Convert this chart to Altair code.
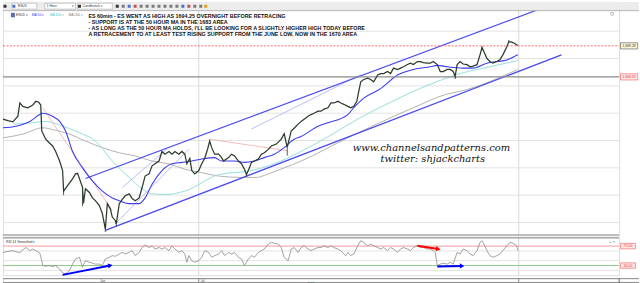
import altair as alt
import pandas as pd
import math

# ---------------- data ----------------
bar_x = [0, 5, 10, 15, 17, 20, 25, 30, 33, 36, 38, 39, 41, 43, 47, 50, 53, 57, 60, 61,
         63, 67, 70, 73, 75, 77, 80, 81, 83, 87, 90, 93, 97, 100, 102, 103, 105, 108, 110, 113,
         114, 117, 120, 123, 127, 130, 133, 137, 140, 143, 147, 150, 153, 157, 160, 163, 167, 170, 173, 177,
         180, 183, 185, 188, 190, 193, 197, 200, 203, 206, 208, 210, 213, 217, 220, 222, 227, 230, 233, 237,
         240, 243, 245, 248, 250, 253, 257, 260, 263, 267, 270, 275, 280, 283, 286, 290, 293, 297, 300, 303,
         307, 310, 313, 317, 320, 323, 327, 330, 333, 337, 340, 343, 347, 350, 353, 356, 358, 360, 363, 367,
         370, 373, 377, 380, 383, 387, 390, 393, 397, 400, 403, 407, 410, 413, 417, 420, 423, 427, 430, 433,
         437, 440, 443, 447, 450, 453, 455, 457, 460, 463, 467, 470, 473, 477, 480, 482, 484, 487, 490, 493,
         497, 500, 503, 507, 509, 512, 515, 518]
close = [1635.6, 1634.5, 1633.7, 1637.8, 1647.5, 1645, 1644, 1646, 1648.7, 1648, 1646, 1627, 1624, 1621, 1618, 1616, 1612, 1605, 1598, 1583,
         1585, 1589, 1592, 1595.6, 1596, 1592, 1585.7, 1574, 1584.7, 1582, 1578, 1576, 1572.4, 1566.5, 1559, 1555, 1573.8, 1570, 1564, 1561.5,
         1559, 1573.8, 1577, 1579.6, 1581, 1577.5, 1576, 1578, 1585.6, 1594, 1595.6, 1601.5, 1603, 1605, 1612, 1610, 1612, 1610, 1612, 1610,
         1612, 1610, 1603, 1607, 1598, 1595.6, 1598, 1603, 1607, 1614, 1619.6, 1614.8, 1610, 1610, 1607.5, 1605, 1607.5, 1610, 1608.7, 1605,
         1603, 1599, 1595, 1600, 1604, 1605, 1606.5, 1610, 1611, 1613.5, 1616, 1617.4, 1621, 1625, 1615, 1627, 1629, 1632, 1634, 1635.6,
         1637.8, 1639, 1640, 1641.5, 1641.5, 1643, 1644, 1647.5, 1647.5, 1648.7, 1647.5, 1646.5, 1645, 1644, 1645, 1648.7, 1656, 1663, 1664.7, 1665.7,
         1664.7, 1663, 1668, 1669, 1669, 1670.5, 1669, 1673, 1672, 1673, 1674, 1675.6, 1676.6, 1675.6, 1677.8, 1677.8, 1677, 1676.6, 1676.6, 1677.8,
         1675.6, 1670.5, 1670.5, 1672, 1672, 1670.5, 1667, 1675.6, 1677.8, 1676, 1675.5, 1674, 1674.5, 1675.5, 1682.7, 1688, 1685, 1680, 1677.8, 1676.6,
         1677.8, 1679, 1682.7, 1688.7, 1692.4, 1692, 1691, 1689.5]

wick_x = [61, 80, 103, 114, 245, 286, 455, 482, 509]
wick_end = [1580, 1572, 1553, 1557, 1593.5, 1609, 1665, 1689, 1693.6]

ma50_x = [0, 13, 27, 37, 40, 50, 57, 63, 70, 80, 90, 100, 110, 117, 127, 137, 143, 150, 160, 170,
          180, 190, 200, 213, 220, 233, 243, 253, 263, 273, 283, 293, 300, 317, 327, 347, 353, 363, 380, 397,
          413, 430, 437, 447, 463, 473, 487, 497, 507, 518]
ma50 = [1629.3, 1630.5, 1634, 1639, 1640, 1637.8, 1634, 1627, 1612, 1600, 1590.5, 1583, 1578, 1576, 1573.8, 1573.8, 1578, 1588, 1598, 1603,
        1604, 1605, 1606.5, 1607.5, 1605, 1605, 1604, 1605, 1607.5, 1610, 1614.8, 1621, 1623, 1630.5, 1633, 1639, 1644, 1651, 1658, 1668,
        1672, 1674, 1675, 1674, 1673, 1673, 1676.6, 1677.8, 1679, 1682.7]

ma100_x = [10, 30, 43, 60, 77, 93, 110, 127, 140, 150, 163, 183, 217, 250, 273, 300, 330, 360, 390, 413, 440, 460, 490, 518]
ma100 = [1632, 1633, 1634, 1630.5, 1625.7, 1619.6, 1605, 1593, 1584.7, 1581, 1580.5, 1583, 1595, 1598, 1603, 1612, 1624, 1637, 1648, 1656, 1664, 1669, 1674, 1678.5]

ma200_x = [0, 20, 40, 50, 67, 83, 100, 117, 133, 150, 167, 183, 200, 217, 240, 255, 267, 283, 300, 347, 413, 447, 460, 518]
ma200 = [1622, 1624.7, 1629.3, 1628, 1624.7, 1619.6, 1614.8, 1611, 1608.7, 1605, 1602.9, 1599, 1596.5, 1594, 1593, 1593, 1595.6, 1600, 1605, 1622, 1644, 1654, 1656, 1672]

# trend lines: start bar, start price, end bar, end price, kind
tl_x1 = [83, 103, 113, 120, 250, 40, 207]
tl_p1 = [1592.2, 1554.2, 1559.1, 1585.6, 1628.4, 1643.9, 1621.1]
tl_x2 = [560, 562, 187, 165, 360, 110, 287]
tl_p2 = [1721.6, 1682.7, 1613.6, 1613.8, 1668.2, 1568.7, 1612.4]
tl_kind = ["channel", "channel", "thin", "thin", "thin", "red", "red"]

level_red = 1689.28
level_grey = 1666.59
price_ticks = [1560, 1580, 1600, 1620, 1640, 1660, 1680, 1700]
day_lines = [197, 519]

rsi_x = [0, 5, 10, 13, 17, 20, 23, 27, 30, 33, 37, 39, 40, 43, 47, 50, 53, 57, 60, 63,
         67, 70, 73, 77, 80, 83, 87, 90, 93, 97, 100, 103, 107, 110, 113, 117, 120, 123, 127, 130,
         133, 137, 140, 143, 147, 150, 153, 157, 160, 163, 167, 170, 173, 177, 180, 183, 185, 187, 190, 193,
         197, 200, 203, 207, 210, 213, 217, 220, 223, 227, 230, 233, 237, 240, 243, 247, 250, 253, 257, 260,
         263, 267, 270, 273, 277, 280, 283, 287, 290, 293, 297, 300, 303, 307, 310, 313, 317, 320, 323, 327,
         330, 333, 337, 340, 343, 345, 347, 350, 353, 357, 360, 363, 367, 370, 373, 377, 380, 383, 387, 390,
         393, 397, 400, 403, 407, 410, 413, 417, 420, 423, 427, 430, 433, 435, 437, 440, 443, 447, 450, 453,
         457, 460, 463, 467, 470, 473, 477, 480, 482, 484, 487, 490, 493, 497, 500, 503, 507, 510, 513, 517, 518]
rsi = [57, 59, 60.6, 58, 57, 62, 67.3, 60.6, 64, 60.6, 55.7, 40, 30, 28.6, 30, 28, 30, 23, 15, 13,
       20, 33, 43.5, 47, 26.5, 40, 36.7, 35, 33, 33, 30, 43.5, 47, 50.4, 49, 53.7, 57, 53.7, 57, 60.6,
       50.4, 57, 67, 72, 67, 70.6, 64, 67, 64, 67, 60.6, 70.6, 64, 57, 60.6, 53.7, 36.7, 50.4, 40, 36.7,
       40, 47, 60.6, 57, 47, 50.4, 53.7, 60.6, 50.4, 57, 53.7, 57, 47, 43.5, 30, 43.5, 50.4, 47, 57, 60.6,
       64, 74, 77.5, 76, 74, 67, 47, 40, 64, 67, 57, 67, 70.6, 64, 60.6, 64, 67, 67, 70.6, 67,
       70.6, 67, 64, 60.6, 53.7, 50.4, 57, 50.4, 53.7, 70.6, 81, 77.5, 70.6, 74, 70.6, 67, 64, 67, 60.6, 67,
       64, 57, 64, 67, 64, 60.6, 67, 70.6, 67, 67, 64, 64, 60.6, 57, 30, 33, 34.7, 33, 36.7, 33,
       57, 53.7, 64, 60.6, 53.7, 50.4, 60.6, 77.5, 81, 74, 60.6, 50.4, 47, 50.4, 53.7, 60.6, 70.6, 77.5, 76, 70.6, 60.6]

rsi_ticks = [20, 40, 60]
rsi_overbought = 70
rsi_oversold = 30

arrow_x1 = [60, 417, 437]
arrow_r1 = [10.8, 70.8, 28.0]
arrow_x2 = [108, 438, 462]
arrow_r2 = [30.0, 63.9, 29.2]
arrow_col = ["blue", "red", "blue"]

notes = ["ES 60min - ES WENT AS HIGH AS 1694.25 OVERNIGHT BEFORE RETRACING",
         "- SUPPORT IS AT THE 50 HOUR MA IN THE 1683 AREA",
         "- AS LONG AS THE 50 HOUR MA HOLDS, I'LL BE LOOKING FOR A SLIGHTLY HIGHER HIGH TODAY BEFORE",
         "A RETRACEMENT TO AT LEAST TEST RISING SUPPORT FROM THE JUNE LOW, NOW IN THE 1670 AREA"]
month_labels = ["Jun", "Jul"]
month_x = [98, 199]
year_label = "2013"
year_x = 310

# ---------------- scales ----------------
W = 620
H_P, H_R, H_A = 235, 38, 10
PX_PER_PT = 1.375
P_DOM = [1700 - (H_P - 29.5) / PX_PER_PT, 1700 + 29.5 / PX_PER_PT]
R_DOM = [10.2, 87.8]
xs = alt.Scale(domain=[0, W], nice=False, zero=False)
ps = alt.Scale(domain=P_DOM, nice=False, zero=False)
rs = alt.Scale(domain=R_DOM, nice=False, zero=False)

GRID = "#e3e3e3"
FONT = "Liberation Sans"
IND = dict(color="independent", fill="independent", stroke="independent", strokeWidth="independent")


def X(f):
    return alt.X(f, type="quantitative", scale=xs, axis=None)


def PY(f, axis=None):
    return alt.Y(f, type="quantitative", scale=ps, axis=axis)


def RY(f, axis=None):
    return alt.Y(f, type="quantitative", scale=rs, axis=axis)


one = pd.DataFrame({"k": [0]})

# ---------------- price panel ----------------
pdf = pd.DataFrame({"x": bar_x, "c": close})
close_at = dict(zip(bar_x, close))
wdf = pd.DataFrame({"x": wick_x, "a": [close_at[v] for v in wick_x], "b": wick_end})

grid_layer = alt.Chart(pd.DataFrame({"p": price_ticks})).mark_rule(color=GRID, strokeWidth=1).encode(
    y=PY("p", alt.Axis(orient="right", values=price_ticks, format=",.2f", labelFontSize=3.4,
                       labelColor="#555", labelFont=FONT, tickSize=2, tickColor="#999", domain=True,
                       domainColor="#707070", labelPadding=1, grid=False, title=None)),
    x=alt.value(0), x2=alt.value(W))
vgrid = alt.Chart(pd.DataFrame({"x": day_lines})).mark_rule(color="#d8d8d8", strokeWidth=1).encode(
    x=X("x"), y=alt.value(9), y2=alt.value(H_P))


def ma_layer(xv, yv, color, width):
    return alt.Chart(pd.DataFrame({"x": xv, "p": yv})).mark_line(
        color=color, strokeWidth=width, interpolate="monotone").encode(x=X("x"), y=PY("p"))


ma200_l = ma_layer(ma200_x, ma200, "#aaaaaa", 0.9)
ma100_l = ma_layer(ma100_x, ma100, "#96dede", 1)
ma50_l = ma_layer(ma50_x, ma50, "#3c3cf0", 1.1)

tdf = pd.DataFrame({"x1": tl_x1, "p1": tl_p1, "x2": tl_x2, "p2": tl_p2, "kind": tl_kind})


def tl_layer(kind, color, width):
    return alt.Chart(tdf).transform_filter(alt.datum.kind == kind).mark_rule(
        clip=True, color=color, strokeWidth=width).encode(x=X("x1"), x2="x2", y=PY("p1"), y2="p2")


tl_channel = tl_layer("channel", "#4b4bef", 1.3)
tl_thin = tl_layer("thin", "#a8aef2", 0.8)
tl_red = tl_layer("red", "#f3aaa2", 0.8)

lvl_red = alt.Chart(pd.DataFrame({"p": [level_red]})).mark_rule(
    color="#ff5a5a", strokeWidth=0.9, strokeDash=[2, 1.5]).encode(y=PY("p"), x=alt.value(0), x2=alt.value(W))
lvl_grey = alt.Chart(pd.DataFrame({"p": [level_grey]})).mark_rule(
    color="#8a8a8a", strokeWidth=1.3).encode(y=PY("p"), x=alt.value(0), x2=alt.value(W))

wick_l = alt.Chart(wdf).mark_rule(color="#3a4a3a", strokeWidth=0.9).encode(x=X("x"), y=PY("a"), y2="b")
price_line = alt.Chart(pdf).mark_line(color="#2b3b2b", strokeWidth=1.25).encode(x=X("x"), y=PY("c"))

notes_l = alt.Chart(one).mark_text(text=notes, align="left", baseline="alphabetic", fontSize=5.4,
                                   fontWeight="bold", font=FONT, color="#111", lineHeight=6.1).encode(
    x=alt.value(86), y=alt.value(16.4))
wm1 = alt.Chart(one).mark_text(text="www.channelsandpatterns.com", align="left", baseline="alphabetic",
                               fontSize=10, font="DejaVu Serif", fontStyle="italic", color="#111").encode(
    x=alt.value(352), y=alt.value(149.8))
wm2 = alt.Chart(one).mark_text(text="twitter: shjackcharts", align="left", baseline="alphabetic",
                               fontSize=10, font="DejaVu Serif", fontStyle="italic", color="#111").encode(
    x=alt.value(380), y=alt.value(161))

# legend row
leg_df = pd.DataFrame({"t": ["ESU3 \u25be", "MA 50 \u25be", "MA 100 \u25be", "MA 200 \u25be"],
                       "px": [13, 29, 47, 66], "s": ["#333333", "#3a3aee", "#4cc0c0", "#777777"]})
leg_l = alt.Chart(leg_df).mark_text(align="left", baseline="middle", fontSize=3.4, font=FONT).encode(
    x=alt.X("px:Q", scale=None), y=alt.value(13.2), text="t:N", color=alt.Color("s:N", scale=None))
leg_icon = alt.Chart(one).mark_rect(color="#5a6fb0").encode(
    x=alt.value(8), x2=alt.value(12), y=alt.value(11), y2=alt.value(15.5))

# toolbar
tb_bg = alt.Chart(one).mark_rect(color="#ececec").encode(
    x=alt.value(0), x2=alt.value(640), y=alt.value(0), y2=alt.value(8.5))
tb_line = alt.Chart(one).mark_rule(color="#b4b4b4").encode(
    x=alt.value(0), x2=alt.value(640), y=alt.value(8.8))
box_df = pd.DataFrame({"a": [9, 42, 75], "b": [34, 73, 110]})
tb_boxes = alt.Chart(box_df).mark_rect(fill="#ffffff", stroke="#a8a8a8", strokeWidth=0.6).encode(
    x=alt.X("a:Q", scale=None), x2="b:Q", y=alt.value(1.3), y2=alt.value(7.3))
tb_txt_df = pd.DataFrame({"t": ["ESU3", "1 Hour", "\u25be", "Candlestick \u25be"], "px": [15, 44, 69, 80]})
tb_txt = alt.Chart(tb_txt_df).mark_text(align="left", baseline="middle", fontSize=3.4, font=FONT,
                                        color="#333").encode(
    x=alt.X("px:Q", scale=None), y=alt.value(4.4), text="t:N")
icon_df = pd.DataFrame({"px": [2, 11, 77, 115, 121, 127, 133, 139, 145, 151, 157, 163, 169, 175, 181, 187, 193, 199, 204],
                        "s": ["#333333", "#4a6fd0", "#333333", "#333333", "#7a7a7a", "#4a6fd0", "#c05050",
                              "#7a7a7a", "#7a7a7a", "#7a7a7a", "#7a7a7a", "#7a7a7a", "#7a7a7a", "#7a7a7a",
                              "#4a6fd0", "#c05050", "#7a7a7a", "#7a7a7a", "#e0a020"]})
tb_icons = alt.Chart(icon_df).mark_point(shape="square", filled=True, size=9, opacity=1).encode(
    x=alt.X("px:Q", scale=None), y=alt.value(4.4), color=alt.Color("s:N", scale=None))
corner_icon = alt.Chart(one).mark_point(shape="square", filled=False, size=7, color="#777", strokeWidth=0.6).encode(
    x=alt.value(613), y=alt.value(12))

# right-side boxed labels
BOX = "M-1,-0.36L1,-0.36L1,0.36L-1,0.36Z"
pb_red = alt.Chart(pd.DataFrame({"p": [level_red], "t": [f"{level_red:,.2f}"]}))
pb_grey = alt.Chart(pd.DataFrame({"p": [level_grey], "t": [f"{level_grey:,.2f}"]}))
pbox1 = pb_red.mark_point(shape=BOX, size=300, filled=True, fill="#fbf6d6", stroke="#666", strokeWidth=0.7,
                          opacity=1).encode(x=alt.value(630), y=PY("p"))
ptxt1 = pb_red.mark_text(fontSize=3.4, font=FONT, color="#333").encode(x=alt.value(630), y=PY("p"), text="t:N")
pbox2 = pb_grey.mark_point(shape=BOX, size=300, filled=True, fill="#ffe4e4", stroke="#f07070", strokeWidth=0.7,
                           opacity=1).encode(x=alt.value(630), y=PY("p"))
ptxt2 = pb_grey.mark_text(fontSize=3.4, font=FONT, color="#e03a3a").encode(x=alt.value(630), y=PY("p"), text="t:N")

bottom_line = alt.Chart(one).mark_rule(color="#888").encode(
    x=alt.value(0), x2=alt.value(W), y=alt.value(H_P - 0.5))

price = alt.layer(grid_layer, vgrid, ma200_l, ma100_l, tl_thin, tl_red, tl_channel, ma50_l, lvl_grey, lvl_red,
                  wick_l, price_line, notes_l, wm1, wm2, pbox1, ptxt1, pbox2, ptxt2, bottom_line,
                  tb_bg, tb_line, tb_boxes, tb_txt, tb_icons, leg_icon, leg_l, corner_icon
                  ).properties(width=W, height=H_P).resolve_scale(**IND)

# ---------------- RSI panel ----------------
rsi_grid = alt.Chart(pd.DataFrame({"r": rsi_ticks})).mark_rule(color=GRID).encode(
    y=RY("r", alt.Axis(orient="right", values=rsi_ticks, format=".2f", labelFontSize=3.4, labelColor="#555",
                       labelFont=FONT, tickSize=2, tickColor="#999", domain=True, domainColor="#707070",
                       labelPadding=1, grid=False, title=None)),
    x=alt.value(0), x2=alt.value(W))
rsi_vgrid = alt.Chart(pd.DataFrame({"x": day_lines})).mark_rule(color="#d8d8d8").encode(
    x=X("x"), y=alt.value(0), y2=alt.value(H_R))
ob_l = alt.Chart(pd.DataFrame({"r": [rsi_overbought]})).mark_rule(color="#f29a9a").encode(
    y=RY("r"), x=alt.value(0), x2=alt.value(W))
os_l = alt.Chart(pd.DataFrame({"r": [rsi_oversold]})).mark_rule(color="#8cc88c").encode(
    y=RY("r"), x=alt.value(0), x2=alt.value(W))
rsi_line = alt.Chart(pd.DataFrame({"x": rsi_x, "r": rsi})).mark_line(color="#8a8a8a", strokeWidth=0.8).encode(
    x=X("x"), y=RY("r"))

adf = pd.DataFrame({"x1": arrow_x1, "r1": arrow_r1, "x2": arrow_x2, "r2": arrow_r2, "c": arrow_col})
r_px = H_R / (R_DOM[1] - R_DOM[0])
adf["ang"] = [(math.degrees(math.atan2(-(b - a) * r_px, (d - c))) + 360) % 360
              for a, b, c, d in zip(adf.r1, adf.r2, adf.x1, adf.x2)]
ashaft = alt.Chart(adf).mark_rule(strokeWidth=2).encode(
    x=X("x1"), x2="x2", y=RY("r1"), y2="r2", color=alt.Color("c:N", scale=None))
ahead = alt.Chart(adf).mark_point(shape="triangle-right", filled=True, size=28, opacity=1).encode(
    x=X("x2"), y=RY("r2"), angle=alt.Angle("ang:Q", scale=None), color=alt.Color("c:N", scale=None))

rbox_df = pd.DataFrame({"r": [rsi_overbought, rsi_oversold],
                        "t": [f"{v:.2f}" for v in (rsi_overbought, rsi_oversold)]})
rbox = alt.Chart(rbox_df).mark_point(shape=BOX, size=230, filled=True, fill="#ffe4e4", stroke="#f07070",
                                     strokeWidth=0.7, opacity=1).encode(x=alt.value(629), y=RY("r"))
rtxt = alt.Chart(rbox_df).mark_text(fontSize=3.4, font=FONT, color="#e03a3a").encode(
    x=alt.value(629), y=RY("r"), text="t:N")
rsi_title = alt.Chart(one).mark_text(text="RSI 14 Smoothed \u25be", align="left", baseline="middle",
                                     fontSize=3.4, font=FONT, color="#333").encode(x=alt.value(3), y=alt.value(4.5))
rsi_icons = alt.Chart(one).mark_text(text="\u25a1 \u00d7", align="left", baseline="middle", fontSize=4,
                                     font=FONT, color="#555").encode(x=alt.value(610), y=alt.value(4.5))
rsi_top = alt.Chart(one).mark_rule(color="#888").encode(x=alt.value(0), x2=alt.value(W), y=alt.value(0.5))

rsi_panel = alt.layer(rsi_grid, rsi_vgrid, ob_l, os_l, rsi_line, ashaft, ahead, rbox, rtxt, rsi_title,
                      rsi_icons, rsi_top).properties(width=W, height=H_R).resolve_scale(**IND)

# ---------------- time axis rows ----------------
ax_lines = alt.Chart(pd.DataFrame({"yy": [0.5, 4.3]})).mark_rule(color="#8a8a8a").encode(
    y=alt.Y("yy:Q", scale=None), x=alt.value(0), x2=alt.value(640))
ax_v = alt.Chart(pd.DataFrame({"x": day_lines})).mark_rule(color="#8a8a8a").encode(
    x=X("x"), y=alt.value(0), y2=alt.value(4.3))
ax_right = alt.Chart(one).mark_rule(color="#707070").encode(x=alt.value(W), y=alt.value(0), y2=alt.value(H_A))
ax_m = alt.Chart(pd.DataFrame({"x": month_x, "t": month_labels})).mark_text(
    align="left", baseline="middle", fontSize=3.0, font=FONT, color="#444").encode(
    x=X("x"), y=alt.value(2.4), text="t:N")
ax_y = alt.Chart(pd.DataFrame({"x": [year_x], "t": [year_label]})).mark_text(
    align="center", baseline="middle", fontSize=3.0, font=FONT, color="#444").encode(
    x=X("x"), y=alt.value(5.9), text="t:N")
axis_row = alt.layer(ax_lines, ax_v, ax_right, ax_m, ax_y).properties(width=W, height=H_A)

chart = alt.vconcat(price, rsi_panel, axis_row, spacing=0, padding=0).resolve_scale(
    x="independent", y="independent").configure_view(stroke=None).configure(background="white")

chart.save("out.html", embed_options={"renderer": "svg", "actions": False})
